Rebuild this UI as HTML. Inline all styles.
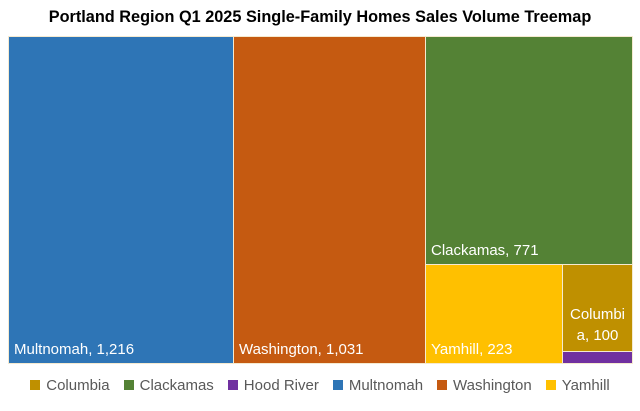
<!DOCTYPE html>
<html><head><meta charset="utf-8"><style>
body{margin:0;width:640px;height:411px;background:#fff;font-family:"Liberation Sans",sans-serif;position:relative;overflow:hidden}
.t{position:absolute;top:8px;left:0;width:640px;text-align:center;font-weight:bold;font-size:16.3px;color:#000}
.r{position:absolute;box-sizing:border-box;border:1px solid #f5ead0;overflow:hidden}
.l{position:absolute;left:5px;bottom:4px;color:#fff;font-size:15px;line-height:18px}
.lg{position:absolute;top:377px;left:0;width:640px;text-align:center;font-size:15px;color:#595959}
.lg span{display:inline-block;margin:0 7px}
.lg i{display:inline-block;width:10px;height:10px;margin-right:6px;vertical-align:0px}
</style></head><body>
<div class="t">Portland Region Q1 2025 Single-Family Homes Sales Volume Treemap</div>
<div class="r" style="left:8px;top:36px;width:226px;height:328px;background:#2e75b6"><div class="l">Multnomah, 1,216</div></div>
<div class="r" style="left:233px;top:36px;width:193px;height:328px;background:#c55a11"><div class="l">Washington, 1,031</div></div>
<div class="r" style="left:425px;top:36px;width:208px;height:229px;background:#548235"><div class="l">Clackamas, 771</div></div>
<div class="r" style="left:425px;top:264px;width:138px;height:100px;background:#ffc000"><div class="l">Yamhill, 223</div></div>
<div class="r" style="left:562px;top:264px;width:71px;height:88px;background:#bf9000"><div class="l" style="left:0;width:69px;text-align:center;bottom:5px;line-height:21px">Columbi<br>a, 100</div></div>
<div class="r" style="left:562px;top:351px;width:71px;height:13px;background:#7030a0"></div>
<div class="lg"><span><i style="background:#bf9000"></i>Columbia</span><span><i style="background:#548235"></i>Clackamas</span><span><i style="background:#7030a0"></i>Hood River</span><span><i style="background:#2e75b6"></i>Multnomah</span><span><i style="background:#c55a11"></i>Washington</span><span><i style="background:#ffc000"></i>Yamhill</span></div>
</body></html>
